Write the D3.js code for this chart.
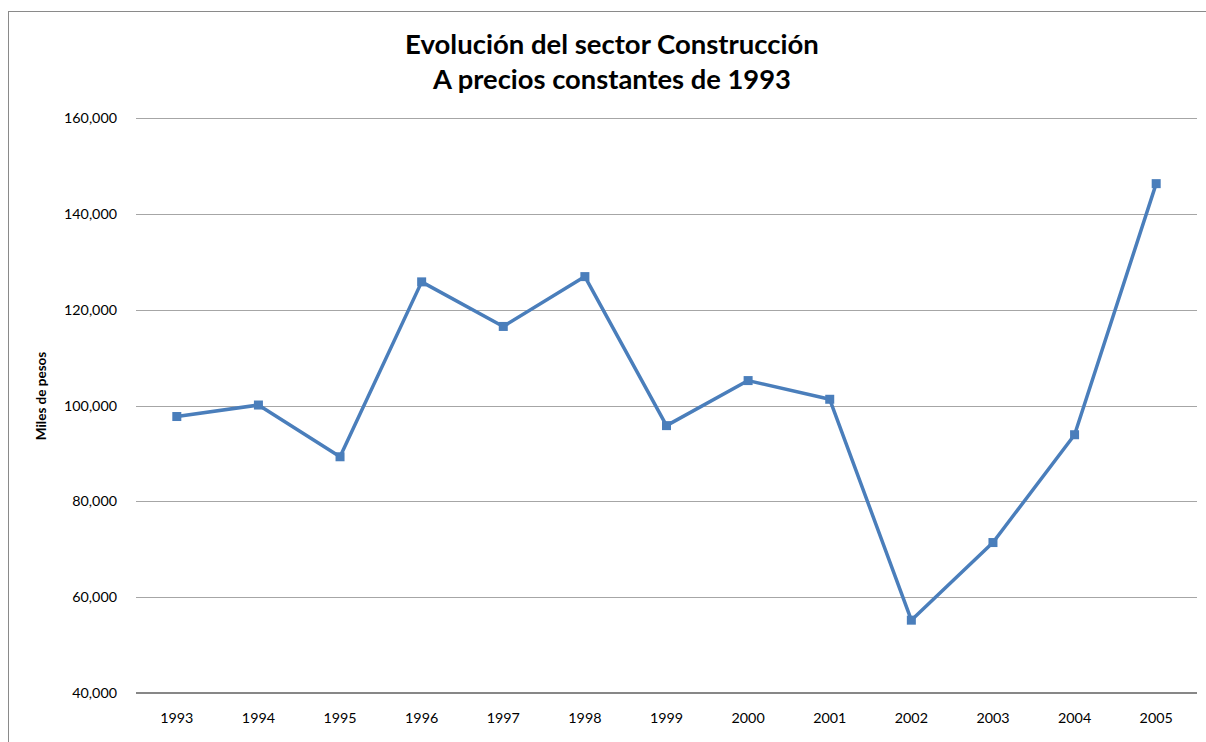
<!DOCTYPE html>
<html>
<head>
<meta charset="utf-8">
<script src="https://cdn.jsdelivr.net/npm/d3@7/dist/d3.min.js"></script>
<style>
  html, body { margin: 0; padding: 0; background: #ffffff; }
  svg { display: block; }
  text { font-family: Lato, "Open Sans", sans-serif; }
</style>
</head>
<body>
<svg id="chart" width="1206" height="742"></svg>
<script>
const years = ["1993","1994","1995","1996","1997","1998","1999","2000","2001","2002","2003","2004","2005"];
const values = [97700, 100100, 89300, 125800, 116500, 126900, 95800, 105200, 101300, 55200, 71400, 93900, 146300];
const yTicks = [40000, 60000, 80000, 100000, 120000, 140000, 160000];
const titleLines = ["Evolución del sector Construcción", "A precios constantes de 1993"];
const yAxisTitle = "Miles de pesos";

const svg = d3.select("#chart");
const W = 1206, H = 742;
const plot = { left: 136, right: 1197, top: 118, bottom: 693 };

// chart border
svg.append("rect")
  .attr("x", 8.5).attr("y", 11.5)
  .attr("width", W + 20).attr("height", H + 20)
  .attr("fill", "#ffffff").attr("stroke", "#8a8a8a").attr("stroke-width", 1);

const x = d3.scaleBand().domain(years).range([plot.left, plot.right]).padding(0);
const y = d3.scaleLinear().domain([40000, 160000]).range([plot.bottom, plot.top]);

// gridlines
svg.append("g").selectAll("line")
  .data(yTicks.filter(d => d !== 40000))
  .join("line")
  .attr("x1", plot.left).attr("x2", plot.right)
  .attr("y1", d => Math.round(y(d)) + 0.5).attr("y2", d => Math.round(y(d)) + 0.5)
  .attr("stroke", "#a6a6a6").attr("stroke-width", 1);

// y axis tick labels
const fmt = d3.format(",");
const yAxis = d3.axisLeft(y).tickValues(yTicks).tickFormat(fmt).tickSize(0).tickPadding(0);
const gy = svg.append("g").attr("transform", `translate(${plot.left - 19},0)`).call(yAxis);
gy.select(".domain").remove();
gy.selectAll("text").attr("font-size", 14.3).attr("fill", "#000").attr("font-family", "Lato, sans-serif");

// x axis
const xAxis = d3.axisBottom(x).tickSize(0).tickPadding(0);
const gx = svg.append("g").attr("transform", `translate(0,${plot.bottom})`).call(xAxis);
gx.select(".domain").remove();
gx.selectAll("text").attr("font-size", 14.3).attr("fill", "#000").attr("dy", "2.1em").attr("font-family", "Lato, sans-serif");
svg.append("line")
  .attr("x1", plot.left).attr("x2", plot.right)
  .attr("y1", plot.bottom).attr("y2", plot.bottom)
  .attr("stroke", "#878787").attr("stroke-width", 2);

// line
const data = years.map((yr, i) => ({ yr, v: values[i] }));
const cx = d => x(d.yr) + x.bandwidth() / 2;
svg.append("path")
  .datum(data)
  .attr("fill", "none")
  .attr("stroke", "#4a7ebb")
  .attr("stroke-width", 3.5)
  .attr("stroke-linejoin", "round")
  .attr("d", d3.line().x(cx).y(d => y(d.v)));

svg.append("g").selectAll("rect")
  .data(data)
  .join("rect")
  .attr("x", d => cx(d) - 4.5).attr("y", d => y(d.v) - 4.5)
  .attr("width", 9).attr("height", 9)
  .attr("fill", "#4a7ebb");

// title
const tg = svg.append("g");
const targetW = [414, 358];
titleLines.forEach((t, i) => {
  const el = tg.append("text")
    .attr("x", 612).attr("y", 54 + i * 35)
    .attr("text-anchor", "middle")
    .attr("font-size", 24).attr("font-weight", "bold")
    .attr("fill", "#000").text(t);
  const w = el.node().getComputedTextLength();
  el.attr("font-size", 24 * targetW[i] / w);
});

// y axis title
svg.append("text")
  .attr("transform", `translate(46,396) rotate(-90)`)
  .attr("text-anchor", "middle")
  .attr("font-size", 13.5).attr("font-weight", "bold")
  .attr("fill", "#000").text(yAxisTitle);
</script>
</body>
</html>
